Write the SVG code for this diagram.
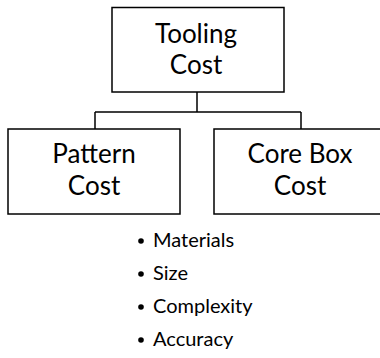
<svg xmlns="http://www.w3.org/2000/svg" width="380" height="358" viewBox="0 0 380 358">
  <style>
    .box { fill: #ffffff; stroke: #000000; stroke-width: 1.5; }
    .wire { fill: none; stroke: #000000; stroke-width: 1.5; }
    .lbl { font-family: Lato, "Open Sans", "Liberation Sans", sans-serif; font-size: 26px; fill: #000000; text-anchor: middle; }
    .item { font-family: Lato, "Open Sans", "Liberation Sans", sans-serif; font-size: 20px; fill: #000000; }
  </style>
  <rect width="380" height="358" fill="#ffffff"/>

  <g id="connectors">
    <path class="wire" d="M197 92 V112 M95 112 H301 M95 112 V129 M301 112 V129"/>
  </g>

  <g id="tooling-cost">
    <rect class="box" x="112" y="7.5" width="172" height="84.5"/>
    <text class="lbl" x="196" y="43">Tooling</text>
    <text class="lbl" x="196" y="74">Cost</text>
  </g>

  <g id="pattern-cost">
    <rect class="box" x="8" y="129" width="172" height="85"/>
    <text class="lbl" x="94" y="163">Pattern</text>
    <text class="lbl" x="94" y="195">Cost</text>
  </g>

  <g id="core-box-cost">
    <rect class="box" x="214" y="129" width="172" height="85"/>
    <text class="lbl" x="300" y="163">Core Box</text>
    <text class="lbl" x="300" y="195">Cost</text>
  </g>

  <g id="cost-factors">
    <circle cx="141" cy="241" r="2.8"/>
    <text class="item" x="153" y="247">Materials</text>
    <circle cx="141" cy="274" r="2.8"/>
    <text class="item" x="153" y="280">Size</text>
    <circle cx="141" cy="307" r="2.8"/>
    <text class="item" x="153" y="313">Complexity</text>
    <circle cx="141" cy="340" r="2.8"/>
    <text class="item" x="153" y="346">Accuracy</text>
  </g>
</svg>
